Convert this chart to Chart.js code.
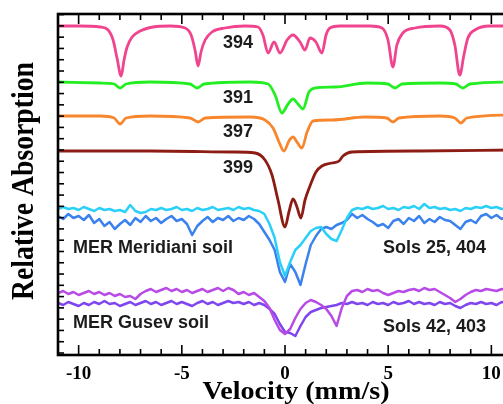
<!DOCTYPE html>
<html>
<head>
<meta charset="utf-8">
<script src="https://cdn.jsdelivr.net/npm/chart.js@4.4.1/dist/chart.umd.min.js"></script>
<style>
  html, body { margin: 0; padding: 0; background: #fff; overflow: hidden; }
  #wrap { width: 520px; height: 404px; position: relative; }
</style>
</head>
<body>
<div id="wrap"><canvas id="mossChart"></canvas></div>
<script>
// reference spectra (smooth), velocity in mm/s, absorption in arbitrary offset units
const vel394 = [-11, -9.93, -8.96, -8.57, -8.33, -8.14, -7.94, -7.8, -7.65, -7.41, -7.02, -6.39, -5.57, -4.84, -4.55, -4.36, -4.21, -4.07, -3.87, -3.54, -2.91, -1.94, -1.31, -1.07, -0.82, -0.53, -0.24, 0.1, 0.39, 0.73, 0.97, 1.21, 1.5, 1.79, 1.99, 2.18, 2.66, 4.12, 4.7, 4.99, 5.23, 5.42, 5.71, 6.3, 7.51, 7.99, 8.23, 8.47, 8.67, 8.86, 9.2, 9.93, 11];
const abs394 = [329, 329, 328, 325, 315, 297, 279, 295, 308, 318, 324, 328, 329, 327, 320, 305, 289, 303, 315, 323, 327, 329, 328, 320, 302, 313, 302, 315, 320, 313, 305, 317, 313, 302, 320, 327, 329, 329, 327, 315, 288, 310, 322, 327, 329, 325, 310, 280, 300, 317, 325, 329, 329];

const vel391 = [-11, -8.96, -8.28, -7.99, -7.7, -6.54, -4.6, -4.26, -3.92, -1.69, -0.82, -0.48, -0.15, 0.15, 0.39, 0.63, 0.87, 1.16, 1.45, 2.42, 3.97, 4.99, 5.33, 5.67, 7.51, 8.28, 8.62, 8.96, 11];
const abs391 = [273, 272, 271, 267, 271, 273, 271, 267, 271, 273, 271, 260, 242, 251, 256, 251, 246, 263, 267, 268, 272, 271, 267, 271, 272, 271, 267, 271, 273];

const vel397 = [-11, -8.96, -8.28, -7.99, -7.7, -6.54, -4.6, -4.21, -3.87, -1.69, -0.97, -0.58, -0.29, -0.05, 0.19, 0.39, 0.58, 0.82, 1.07, 1.36, 2.32, 3.87, 4.94, 5.23, 5.52, 7.51, 8.23, 8.52, 8.81, 11];
const abs397 = [239, 239, 237, 231, 237, 239, 237, 233, 237, 238, 235, 227, 213, 204, 214, 218, 213, 207, 223, 234, 235, 238, 237, 233, 237, 239, 237, 232, 237, 240];

const vel399 = [-11, -6.54, -2.52, -1.45, -0.97, -0.63, -0.34, 0, 0.19, 0.39, 0.58, 0.77, 0.97, 1.21, 1.5, 1.79, 2.28, 2.62, 2.81, 3.24, 6.54, 11];
const abs399 = [204, 204, 203, 202, 195, 180, 155, 128, 143, 156, 148, 137, 155, 169, 183, 189, 192, 194, 199, 203, 204, 205];

// MER soil spectra (noisy), common velocity channels
const velMER = [-11, -10.75, -10.5, -10.25, -10, -9.75, -9.5, -9.25, -9, -8.75, -8.5, -8.25, -8, -7.75, -7.5, -7.25, -7, -6.75, -6.5, -6.25, -6, -5.75, -5.5, -5.25, -5, -4.75, -4.5, -4.25, -4, -3.75, -3.5, -3.25, -3, -2.75, -2.5, -2.25, -2, -1.75, -1.5, -1.25, -1, -0.75, -0.5, -0.25, 0, 0.25, 0.5, 0.75, 1, 1.25, 1.5, 1.75, 2, 2.25, 2.5, 2.75, 3, 3.25, 3.5, 3.75, 4, 4.25, 4.5, 4.75, 5, 5.25, 5.5, 5.75, 6, 6.25, 6.5, 6.75, 7, 7.25, 7.5, 7.75, 8, 8.25, 8.5, 8.75, 9, 9.25, 9.5, 9.75, 10, 10.25, 10.5, 10.75, 11];

const absMeridiani25 = [146,
  148, 146, 147, 145, 148, 146, 144, 147, 145, 146, 144, 145, 143, 150, 144, 142,
  143, 146, 145, 147, 145, 146, 148, 145, 146, 144, 147, 145, 146, 148, 145, 146,
  147, 145, 148, 146, 147, 145, 144, 141, 131, 117, 93, 79, 93, 105, 110, 117,
  124, 127, 128, 121, 116, 114, 125, 137, 145, 147, 146, 148, 146, 147, 149, 146,
  147, 145, 148, 147, 149, 146, 151, 147, 148, 146, 147, 145, 146, 144, 147, 146,
  148, 147, 149, 147, 148, 146, 147, 148];

const absMeridiani404 = [139,
  136, 141, 137, 139, 135, 140, 132, 136, 129, 133, 126, 131, 135, 130, 137, 133,
  139, 134, 137, 132, 136, 139, 134, 136, 131, 120, 129, 134, 138, 133, 137, 135,
  139, 134, 137, 135, 139, 136, 131, 123, 115, 105, 83, 73, 91, 83, 70, 91,
  110, 119, 126, 128, 126, 130, 132, 135, 141, 137, 140, 136, 133, 129, 131, 127,
  134, 136, 131, 137, 134, 139, 132, 136, 133, 138, 135, 134, 130, 126, 133, 135,
  132, 139, 141, 137, 140, 136, 139, 138];

const absGusev42 = [62,
  64, 61, 63, 60, 62, 64, 61, 63, 60, 62, 59, 61, 58, 59, 56, 61,
  64, 66, 63, 65, 67, 64, 66, 63, 65, 62, 64, 66, 63, 65, 67, 64,
  67, 65, 61, 63, 60, 62, 58, 54, 47, 35, 25, 21, 26, 37, 46, 52,
  55, 53, 50, 46, 39, 29, 47, 59, 64, 65, 63, 66, 64, 65, 62, 60,
  62, 64, 63, 65, 66, 64, 67, 65, 66, 63, 60, 57, 53, 56, 60, 63,
  65, 64, 66, 65, 64, 66, 65, 64];

const absGusev403 = [52,
  50, 53, 51, 49, 52, 50, 53, 51, 54, 51, 52, 49, 51, 53, 50, 52,
  54, 51, 53, 50, 52, 54, 51, 53, 51, 49, 52, 54, 51, 53, 50, 52,
  54, 52, 53, 51, 53, 50, 52, 50, 46, 41, 31, 23, 22, 19, 29, 38,
  43, 45, 47, 48, 49, 50, 52, 51, 53, 51, 52, 50, 53, 51, 52, 50,
  53, 51, 52, 54, 51, 53, 51, 52, 50, 53, 51, 52, 49, 47, 50, 52,
  51, 53, 51, 52, 50, 53, 52, 51];

const xTickValues = [-10, -5, 0, 5, 10];
const curveLabels = ['394', '391', '397', '399', 'MER Meridiani soil', 'Sols 25, 404', 'MER Gusev soil', 'Sols 42, 403'];

const pts = (vs, as) => vs.map((v, i) => ({ x: v, y: as[i] }));

const smooth = (label, vs, as, color) => ({
  label, data: pts(vs, as), borderColor: color, borderWidth: 2.8,
  cubicInterpolationMode: 'monotone', pointRadius: 0, fill: false
});
const noisy = (label, as, color) => ({
  label, data: pts(velMER, as), borderColor: color, borderWidth: 2.5,
  tension: 0, pointRadius: 0, fill: false, borderJoinStyle: 'round'
});

// inner ticks, frame, in-plot labels and axis titles
const frameAndText = {
  id: 'frameAndText',
  afterDatasetsDraw(chart) {
    const { ctx, chartArea: a, scales: { x, y } } = chart;
    ctx.save();
    ctx.strokeStyle = '#000';
    ctx.lineWidth = 1.6;
    for (let v = -11; v <= 11; v++) {
      const px = x.getPixelForValue(v);
      const len = v % 5 === 0 ? 10 : 6;
      ctx.beginPath();
      ctx.moveTo(px, a.bottom); ctx.lineTo(px, a.bottom - len);
      ctx.moveTo(px, a.top); ctx.lineTo(px, a.top + len);
      ctx.stroke();
    }
    for (let t = 2; t < 341; t += 11.28) {
      const py = y.getPixelForValue(t);
      ctx.beginPath();
      ctx.moveTo(a.left, py); ctx.lineTo(a.left + 6, py);
      ctx.stroke();
    }
    ctx.lineWidth = 2.6;
    ctx.strokeRect(a.left, a.top, a.right - a.left, a.bottom - a.top);

    // curve labels, anchored in data units
    const anchors = [[-3, 312], [-3, 257], [-3, 223], [-3, 187], [-10.27, 107], [4.75, 107], [-10.27, 32], [4.75, 28]];
    ctx.fillStyle = '#1c1c1c';
    ctx.font = 'bold 18px "Liberation Sans", Arial, sans-serif';
    ctx.textAlign = 'left';
    ctx.textBaseline = 'middle';
    curveLabels.forEach((t, i) => {
      ctx.fillText(t, x.getPixelForValue(anchors[i][0]), y.getPixelForValue(anchors[i][1]));
    });

    // axis titles, squeezed to the width seen in the figure
    const fitText = (txt, cx, cy, len, rot) => {
      ctx.save();
      ctx.translate(cx, cy);
      ctx.rotate(rot);
      const w = ctx.measureText(txt).width;
      ctx.scale(len / w, 1);
      ctx.textAlign = 'center';
      ctx.textBaseline = 'middle';
      ctx.fillText(txt, 0, 0);
      ctx.restore();
    };
    ctx.fillStyle = '#000';
    ctx.font = 'bold 26px "Liberation Serif", "Times New Roman", serif';
    fitText('Velocity (mm/s)', 296, 392, 187, 0);
    ctx.font = 'bold 31px "Liberation Serif", "Times New Roman", serif';
    fitText('Relative Absorption', 25, 181, 238, -Math.PI / 2);
    ctx.restore();
  }
};

new Chart(document.getElementById('mossChart'), {
  type: 'line',
  data: {
    datasets: [
      smooth('394', vel394, abs394, '#f0448e'),
      smooth('391', vel391, abs391, '#22ee22'),
      smooth('397', vel397, abs397, '#f7862d'),
      smooth('399', vel399, abs399, '#8c1c14'),
      noisy('Meridiani sol 25', absMeridiani25, '#2ad0f8'),
      noisy('Meridiani sol 404', absMeridiani404, '#3b82ee'),
      noisy('Gusev sol 42', absGusev42, '#b84ae6'),
      noisy('Gusev sol 403', absGusev403, '#7f45ee')
    ]
  },
  options: {
    responsive: true,
    maintainAspectRatio: false,
    animation: false,
    layout: { padding: { left: 0, top: 14, right: 8, bottom: 0 } },
    plugins: { legend: { display: false }, tooltip: { enabled: false } },
    scales: {
      x: {
        type: 'linear', min: -11, max: 11,
        grid: { display: false }, border: { display: false },
        afterBuildTicks: s => { s.ticks = xTickValues.map(v => ({ value: v })); },
        afterFit: s => { s.height = 49; },
        ticks: {
          color: '#000', padding: 0, maxRotation: 0,
          font: { family: '"Liberation Serif", "Times New Roman", serif', weight: 'bold', size: 19 }
        }
      },
      y: {
        type: 'linear', min: 0, max: 341,
        grid: { display: false }, border: { display: false },
        ticks: { display: false },
        afterFit: s => { s.width = 58; }
      }
    }
  },
  plugins: [frameAndText]
});
</script>
</body>
</html>
